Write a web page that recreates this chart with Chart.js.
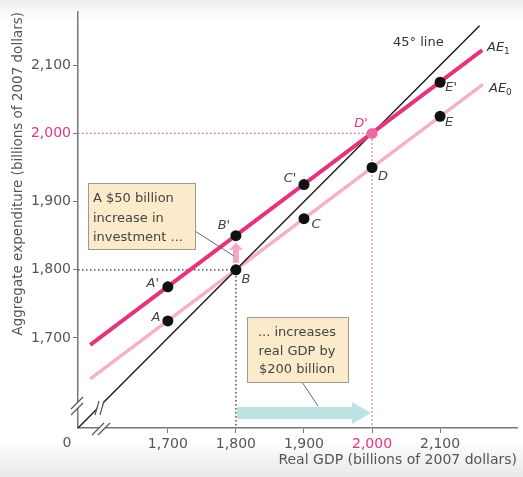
<!DOCTYPE html>
<html><head><meta charset="utf-8">
<script src="https://cdn.jsdelivr.net/npm/chart.js@4"></script>
<style>
html,body{margin:0;padding:0;}
body{width:523px;height:477px;overflow:hidden;background:linear-gradient(to bottom,#ececec 0px,#f8f8f8 10px,#ffffff 22px,#ffffff 440px,#f3f3f3 458px,#e9e9e9 477px);}
#wrap{position:relative;width:523px;height:477px;}
</style></head><body><div id="wrap"><canvas id="c" width="523" height="477"></canvas></div>
<script>
// ---- data ----
const gdp = [1700, 1800, 1900, 2000, 2100];
const ae0Points = [1725, 1800, 1875, 1950, 2025];
const ae1Points = [1775, 1850, 1925, 2000, 2075];
const ae0Names = ['A', 'B', 'C', 'D', 'E'];
const ae1Names = ["A'", "B'", "C'", "D'", "E'"];
const line45X = [1568, 2158];
const line45Y = [1568, 2158];
const ae0LineX = [1586, 2163];
const ae0LineY = [1640, 2072];
const ae1LineX = [1586, 2162];
const ae1LineY = [1690, 2122];
const xTicks = [1700, 1800, 1900, 2000, 2100];
const yTicks = [1700, 1800, 1900, 2000, 2100];
const axisMin = 1568;
const xMax = 2213, yMax = 2178;

const MAG = '#e2357e', PINK = '#f5b0ca', MAGDOT = '#e0559a';
const FONT = '"DejaVu Sans", "Open Sans", sans-serif';

const pts = (xs, ys) => xs.map((x, i) => ({x, y: ys[i]}));
const blackPts = pts(gdp, ae0Points).concat(pts(gdp, ae1Points).filter(p => p.x !== 2000));
const magPts = pts(gdp, ae1Points).filter(p => p.x === 2000);

const fmt = v => v.toLocaleString('en-US');

const decor = {
  id: 'decor',
  beforeDatasetsDraw(chart) {
    const ctx = chart.ctx, xs = chart.scales.x;
    const X = v => xs.getPixelForValue(v);
    ctx.save();
    // teal arrow
    const ay = 413, ax0 = X(1800) + 1, ax1 = X(2000) - 1;
    ctx.fillStyle = '#bde3e3';
    ctx.beginPath();
    ctx.moveTo(ax0, ay - 6); ctx.lineTo(ax1 - 19, ay - 6); ctx.lineTo(ax1 - 19, ay - 11);
    ctx.lineTo(ax1, ay); ctx.lineTo(ax1 - 19, ay + 11); ctx.lineTo(ax1 - 19, ay + 6);
    ctx.lineTo(ax0, ay + 6); ctx.closePath(); ctx.fill();
    ctx.restore();
  },
  afterDatasetsDraw(chart) {
    const ctx = chart.ctx, xs = chart.scales.x, ys = chart.scales.y;
    const X = v => xs.getPixelForValue(v), Y = v => ys.getPixelForValue(v);
    ctx.save();
    // point labels
    const off0 = [[-12, -3], [10, 10], [12, 6], [11, 9], [9, 6]];
    const off1 = [[-15, -3], [-12, -10], [-14, -6], [-11, -10], [11, 5]];
    ctx.font = 'italic 13px ' + FONT;
    ctx.textAlign = 'center'; ctx.textBaseline = 'middle';
    gdp.forEach((g, i) => {
      ctx.fillStyle = '#444';
      ctx.fillText(ae0Names[i], X(g) + off0[i][0], Y(ae0Points[i]) + off0[i][1]);
      ctx.fillStyle = g === 2000 ? MAG : '#444';
      ctx.fillText(ae1Names[i], X(g) + off1[i][0], Y(ae1Points[i]) + off1[i][1]);
    });
    // line labels
    ctx.fillStyle = '#333';
    ctx.font = '13px ' + FONT;
    ctx.textAlign = 'left';
    ctx.fillText('45° line', 393, 43);
    const sub = (t, s, x, y) => {
      ctx.font = 'italic 13px ' + FONT; ctx.fillText(t, x, y);
      const w = ctx.measureText(t).width;
      ctx.font = '9px ' + FONT; ctx.fillText(s, x + w, y + 4);
    };
    sub('AE', '1', 487, 48);
    sub('AE', '0', 489, 89);

    // pink small arrow B -> B'
    const px = X(1800), py0 = Y(1800) - 7, py1 = Y(1850) + 7;
    ctx.fillStyle = '#f4a6c6';
    ctx.beginPath();
    ctx.moveTo(px - 3, py0); ctx.lineTo(px - 3, py1 + 7); ctx.lineTo(px - 7, py1 + 7);
    ctx.lineTo(px, py1); ctx.lineTo(px + 7, py1 + 7); ctx.lineTo(px + 3, py1 + 7);
    ctx.lineTo(px + 3, py0); ctx.closePath(); ctx.fill();

    // leader lines
    ctx.strokeStyle = '#666'; ctx.lineWidth = 1;
    ctx.beginPath(); ctx.moveTo(195, 231); ctx.lineTo(px - 2, 256); ctx.stroke();
    ctx.beginPath(); ctx.moveTo(302, 382); ctx.lineTo(318, 406); ctx.stroke();

    // boxes
    const box = (x, y, w, h) => {
      ctx.fillStyle = '#fcebcb'; ctx.fillRect(x, y, w, h);
      ctx.strokeStyle = '#9a9a9a'; ctx.lineWidth = 1; ctx.strokeRect(x + 0.5, y + 0.5, w, h);
    };
    box(88, 183, 107, 66);
    box(247, 317, 101, 65);
    ctx.fillStyle = '#444'; ctx.font = '13px ' + FONT; ctx.textBaseline = 'middle';
    ctx.textAlign = 'left';
    ['A $50 billion', 'increase in', 'investment ...'].forEach((t, i) => ctx.fillText(t, 93, 199 + i * 19.5));
    ctx.textAlign = 'center';
    ['... increases', 'real GDP by', '$200 billion'].forEach((t, i) => ctx.fillText(t, 297, 333 + i * 18.5));

    // axis breaks
    const ox = chart.chartArea.left, oy = chart.chartArea.bottom;
    const brk = (x1, y1, x2, y2, dx, dy) => {
      ctx.strokeStyle = '#fff'; ctx.lineWidth = 4;
      ctx.beginPath(); ctx.moveTo(x1 + dx / 2, y1 + dy / 2); ctx.lineTo(x2 + dx / 2, y2 + dy / 2); ctx.stroke();
      ctx.strokeStyle = '#555'; ctx.lineWidth = 1.2;
      ctx.beginPath(); ctx.moveTo(x1, y1); ctx.lineTo(x2, y2);
      ctx.moveTo(x1 + dx, y1 + dy); ctx.lineTo(x2 + dx, y2 + dy); ctx.stroke();
    };
    brk(ox - 7, oy - 19, ox + 5, oy - 31, 0, 6);
    brk(ox + 14, oy + 7, ox + 26, oy - 5, 6, 0);
    brk(ox + 17, oy - 13, ox + 21, oy - 27, 5, 0);

    ctx.fillStyle = '#555'; ctx.font = '14px ' + FONT; ctx.textAlign = 'center';
    ctx.fillText('0', 67, 443);
    ctx.restore();
  }
};

new Chart(document.getElementById('c'), {
  type: 'scatter',
  data: {
    datasets: [
      {data: magPts, pointRadius: 5.5, pointBackgroundColor: '#ec6aa3', pointBorderWidth: 0},
      {data: blackPts, pointRadius: 5.5, pointBackgroundColor: '#111', pointBorderWidth: 0},
      {data: pts(ae1LineX, ae1LineY), showLine: true, borderColor: MAG, borderWidth: 4, pointRadius: 0},
      {data: pts(line45X, line45Y), showLine: true, borderColor: '#1a1a1a', borderWidth: 1.4, pointRadius: 0},
      {data: pts(ae0LineX, ae0LineY), showLine: true, borderColor: PINK, borderWidth: 3.5, pointRadius: 0},
      {data: [{x: axisMin, y: 2000}, {x: 2000, y: 2000}, {x: 2000, y: axisMin}], showLine: true, borderColor: MAGDOT, borderWidth: 1.3, borderDash: [1.5, 2.5], pointRadius: 0},
      {data: [{x: axisMin, y: 1800}, {x: 1800, y: 1800}, {x: 1800, y: axisMin}], showLine: true, borderColor: '#333', borderWidth: 1.3, borderDash: [1.5, 2.5], pointRadius: 0}
    ]
  },
  options: {
    responsive: false, animation: false, devicePixelRatio: 1,
    layout: {padding: {top: 12, right: 6, left: 0, bottom: 0}},
    plugins: {legend: {display: false}, tooltip: {enabled: false}},
    scales: {
      x: {
        type: 'linear', min: axisMin, max: xMax,
        afterBuildTicks: s => { s.ticks = xTicks.map(v => ({value: v})); },
        afterFit: s => { s.height = 49; },
        ticks: {callback: v => fmt(v), color: c => c.tick && c.tick.value === 2000 ? MAG : '#555', font: {size: 14, family: FONT}, padding: 3, maxRotation: 0},
        grid: {drawOnChartArea: false, tickLength: 5, color: '#777'},
        border: {color: '#777', width: 1.5},
        title: {display: true, text: 'Real GDP (billions of 2007 dollars)', align: 'end', color: '#555', font: {size: 14, family: FONT}, padding: {top: 0, bottom: 8}}
      },
      y: {
        type: 'linear', min: axisMin, max: yMax,
        afterBuildTicks: s => { s.ticks = yTicks.map(v => ({value: v})); },
        afterFit: s => { s.width = 78; },
        ticks: {callback: v => fmt(v), color: c => c.tick && c.tick.value === 2000 ? MAG : '#555', font: {size: 14, family: FONT}, padding: 2},
        grid: {drawOnChartArea: false, tickLength: 5, color: '#777'},
        border: {color: '#777', width: 1.5},
        title: {display: true, text: 'Aggregate expenditure (billions of 2007 dollars)', align: 'end', color: '#555', font: {size: 13.5, family: FONT}, padding: {top: 10, bottom: 0}}
      }
    }
  },
  plugins: [decor]
});
</script></body></html>
